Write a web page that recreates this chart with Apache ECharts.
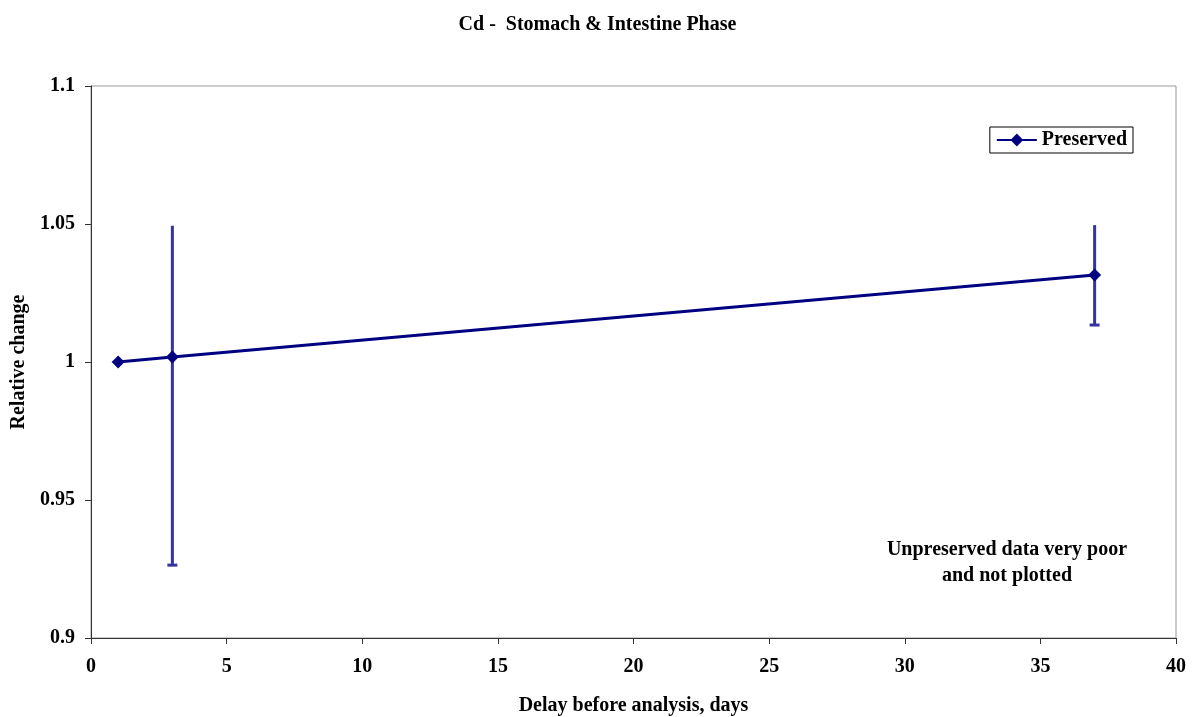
<!DOCTYPE html>
<html>
<head>
<meta charset="utf-8">
<script src="https://cdn.jsdelivr.net/npm/echarts@6/dist/echarts.min.js"></script>
<style>
  html, body { margin: 0; padding: 0; background: #fff; }
  #chart { width: 1195px; height: 717px; }
</style>
</head>
<body>
<div id="chart"></div>
<script>
// values
const days = [1, 3, 37];
const preserved = [1.0, 1.0018, 1.0315];
const errHigh = [null, 1.0494, 1.0496];
const errLow = [null, 0.9264, 1.0134];

const font = 'Liberation Serif, Times New Roman, serif';

const chart = echarts.init(document.getElementById('chart'));

const errData = days
  .map((d, i) => [d, errLow[i], errHigh[i]])
  .filter(r => r[1] != null);

const option = {
  animation: false,
  title: {
    text: 'Cd -  Stomach & Intestine Phase',
    left: 'center',
    top: 10,
    textStyle: { fontFamily: font, fontSize: 20, fontWeight: 'bold', color: '#000' }
  },
  legend: {
    data: ['Preserved'],
    right: 62,
    top: 127,
    orient: 'vertical',
    itemWidth: 40,
    itemHeight: 16,
    itemGap: 0,
    padding: [3, 6, 3, 6],
    borderColor: '#000',
    borderWidth: 1,
    textStyle: { fontFamily: font, fontSize: 20, fontWeight: 'bold', color: '#000' }
  },
  grid: {
    left: 91,
    right: 19,
    top: 86,
    bottom: 79,
    outerBoundsMode: 'none',
    show: true,
    borderColor: '#999',
    borderWidth: 1
  },
  xAxis: {
    type: 'value',
    min: 0,
    max: 40,
    interval: 5,
    name: 'Delay before analysis, days',
    nameLocation: 'middle',
    nameGap: 58,
    nameTextStyle: { fontFamily: font, fontSize: 20, fontWeight: 'bold', color: '#000' },
    axisLine: { lineStyle: { color: '#333', width: 1 } },
    axisTick: { show: true, length: 6, lineStyle: { color: '#333' } },
    axisLabel: { fontFamily: font, fontSize: 20, fontWeight: 'bold', color: '#000', margin: 19 },
    splitLine: { show: false }
  },
  yAxis: {
    type: 'value',
    min: 0.9,
    max: 1.1,
    interval: 0.05,
    name: 'Relative change',
    nameLocation: 'middle',
    nameGap: 60,
    nameTextStyle: { fontFamily: font, fontSize: 20, fontWeight: 'bold', color: '#000' },
    axisLine: { show: true, lineStyle: { color: '#333', width: 1 } },
    axisTick: { show: true, length: 6, lineStyle: { color: '#333' } },
    axisLabel: { fontFamily: font, fontSize: 20, fontWeight: 'bold', color: '#000', margin: 16 },
    splitLine: { show: false }
  },
  series: [
    {
      name: 'errors',
      type: 'custom',
      data: errData,
      z: 1,
      renderItem: (params, api) => {
        const x = api.value(0);
        const lo = api.coord([x, api.value(1)]);
        const hi = api.coord([x, api.value(2)]);
        const style = { stroke: '#3434a0', lineWidth: 3 };
        return {
          type: 'group',
          children: [
            { type: 'line', shape: { x1: lo[0], y1: lo[1], x2: hi[0], y2: hi[1] }, style },
            { type: 'line', shape: { x1: lo[0] - 5, y1: lo[1], x2: lo[0] + 5, y2: lo[1] }, style }
          ]
        };
      }
    },
    {
      name: 'Preserved',
      type: 'line',
      data: days.map((d, i) => [d, preserved[i]]),
      z: 3,
      symbol: 'diamond',
      symbolSize: 13,
      lineStyle: { color: '#000080', width: 3 },
      itemStyle: { color: '#000080' }
    }
  ],
  graphic: [
    {
      type: 'text',
      x: 1007,
      y: 537,
      style: {
        text: 'Unpreserved data very poor\nand not plotted',
        align: 'center',
        fontFamily: font,
        fontSize: 20,
        fontWeight: 'bold',
        lineHeight: 26,
        fill: '#000'
      }
    }
  ]
};

chart.setOption(option);
</script>
</body>
</html>
